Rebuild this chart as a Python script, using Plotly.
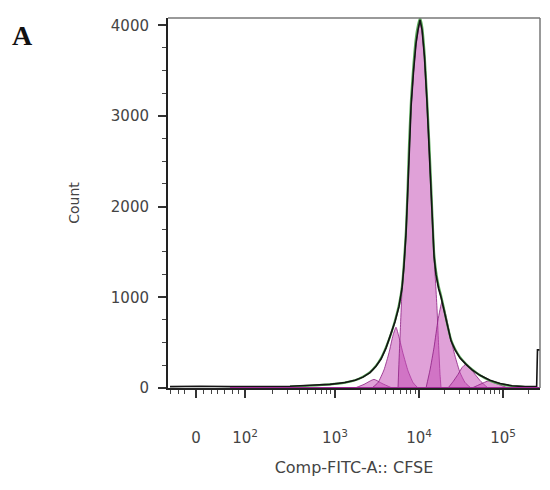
import numpy as np
import plotly.graph_objects as go

# ---- data (x in display units: decades on the biexponential axis) ----
data_x = [1.036, 1.393, 1.75, 2.107, 2.464, 2.702, 2.940, 3.119, 3.238, 3.333, 3.417, 3.488,
          3.548, 3.607, 3.667, 3.714, 3.762, 3.798, 3.821, 3.845, 3.863, 3.881, 3.905, 3.935,
          3.964, 3.988, 4.012, 4.036, 4.065, 4.095, 4.119, 4.143, 4.161, 4.179, 4.202, 4.232,
          4.262, 4.298, 4.333, 4.381, 4.429, 4.488, 4.560, 4.631, 4.726, 4.845, 4.964, 5.107,
          5.262, 5.400, 5.410, 5.44]
data_count = [15, 20, 15, 15, 20, 30, 40, 60, 85, 120, 170, 240,
              320, 440, 590, 730, 900, 1100, 1350, 1700, 2100, 2600, 3100, 3500,
              3800, 3950, 4060, 3950, 3650, 3150, 2700, 2200, 1800, 1450, 1250, 1100,
              1000, 850, 700, 520, 420, 330, 260, 200, 140, 85, 50, 25,
              15, 15, 420, 420]

model_x = [2.464, 2.702, 2.940, 3.119, 3.238, 3.333, 3.417, 3.488, 3.548, 3.607, 3.667, 3.714,
           3.762, 3.798, 3.821, 3.845, 3.863, 3.881, 3.905, 3.935, 3.964, 3.988, 4.012, 4.036,
           4.065, 4.095, 4.119, 4.143, 4.161, 4.179, 4.202, 4.232, 4.262, 4.298, 4.333, 4.381,
           4.429, 4.488, 4.560, 4.631, 4.726, 4.845, 4.964, 5.107, 5.262]
model_count = [15, 25, 40, 60, 85, 125, 175, 245, 330, 450, 600, 745,
               920, 1130, 1390, 1750, 2170, 2680, 3180, 3580, 3870, 4000, 4080, 3990,
               3700, 3200, 2760, 2260, 1860, 1500, 1290, 1130, 1020, 870, 715, 535,
               430, 340, 265, 205, 140, 80, 45, 20, 10]

gen0_x = [3.750, 3.762, 3.780, 3.798, 3.821, 3.845, 3.863, 3.881, 3.905, 3.935, 3.964, 3.988,
          4.012, 4.036, 4.065, 4.095, 4.119, 4.143, 4.161, 4.179, 4.196, 4.214, 4.232, 4.250,
          4.262]
gen0_count = [0, 300, 700, 1080, 1330, 1680, 2080, 2580, 3080, 3480, 3780, 3930,
              4050, 3930, 3630, 3130, 2680, 2180, 1780, 1430, 1180, 880, 500, 150,
              0]

genm1_x = [3.440, 3.512, 3.583, 3.643, 3.690, 3.726, 3.762, 3.810, 3.869, 3.929, 3.988]
genm1_count = [0, 60, 200, 390, 580, 670, 560, 380, 190, 60, 0]

genm2_x = [3.238, 3.345, 3.464, 3.560, 3.679]
genm2_count = [0, 40, 95, 50, 0]

genp1_x = [4.083, 4.131, 4.179, 4.226, 4.274, 4.321, 4.369, 4.429, 4.488, 4.548, 4.619]
genp1_count = [0, 200, 450, 750, 950, 800, 580, 350, 170, 60, 0]

genp2_x = [4.345, 4.405, 4.464, 4.512, 4.560, 4.607, 4.667, 4.738, 4.821]
genp2_count = [0, 70, 150, 225, 265, 225, 150, 70, 0]

genp3_x = [4.631, 4.726, 4.833, 4.929, 5.060]
genp3_count = [0, 40, 80, 45, 0]

baseline_x = [1.75, 5.44]
baseline_y = [0, 0]

tick_vals = [1.345, 1.929, 3.0, 4.0, 5.0]
tick_text = ["0", "10<sup>2</sup>", "10<sup>3</sup>", "10<sup>4</sup>", "10<sup>5</sup>"]

# ---- minor tick positions (axis decoration) ----
lin_minor = [1.036, 1.131, 1.214, 1.440, 1.524, 1.607, 1.690, 1.774, 1.857]
logs = np.log10(np.arange(2, 10))
minor_ticks = lin_minor + list(1.929 + 1.0714 * logs) + list(3 + logs) + list(4 + logs) + [5.301]

fig = go.Figure()

fill_col = "rgba(195,75,180,0.52)"
edge_col = "rgba(140,30,130,0.8)"
for gx, gy in [(genm2_x, genm2_count), (genm1_x, genm1_count), (gen0_x, gen0_count),
               (genp1_x, genp1_count), (genp2_x, genp2_count), (genp3_x, genp3_count)]:
    fig.add_trace(go.Scatter(x=gx, y=gy, mode="lines", fill="tozeroy",
                             fillcolor=fill_col,
                             line=dict(color=edge_col, width=1, shape="spline", smoothing=0.5),
                             showlegend=False, hoverinfo="skip"))

fig.add_trace(go.Scatter(x=model_x, y=model_count, mode="lines",
                         line=dict(color="rgb(90,170,90)", width=2.2, shape="spline", smoothing=0.5),
                         showlegend=False))
fig.add_trace(go.Scatter(x=data_x, y=data_count, mode="lines",
                         line=dict(color="rgb(20,20,20)", width=1.6),
                         showlegend=False))
fig.add_trace(go.Scatter(x=baseline_x, y=baseline_y, mode="lines",
                         line=dict(color="rgb(160,40,150)", width=2),
                         showlegend=False, hoverinfo="skip"))

tick_font = dict(family="DejaVu Sans", size=15, color="#444")

# the page body adds an 8px offset, so the figure is 8px smaller than the window
fig.update_layout(
    width=542, height=482,
    margin=dict(l=160, r=10, t=10, b=102),
    paper_bgcolor="white", plot_bgcolor="white",
    xaxis=dict(range=[1.012, 5.44], tickmode="array", tickvals=tick_vals, ticktext=tick_text,
               automargin=False,
               ticks="outside", ticklen=8, tickwidth=1.5, tickcolor="#333",
               showline=True, linecolor="#222", linewidth=2,
               showgrid=False, zeroline=False, tickfont=tick_font,
               ticklabelstandoff=27,
               minor=dict(tickmode="array", tickvals=minor_ticks, ticks="outside",
                          ticklen=4, tickwidth=1, tickcolor="#444", showgrid=False),
               title=dict(text="Comp-FITC-A:: CFSE",
                          font=dict(family="DejaVu Sans", size=16, color="#444"),
                          standoff=16)),
    yaxis=dict(range=[0, 4080], tickmode="array", tickvals=[0, 1000, 2000, 3000, 4000],
               automargin=False,
               ticks="outside", ticklen=8, tickwidth=1.5, tickcolor="#333",
               showline=True, linecolor="#222", linewidth=2,
               showgrid=False, zeroline=False, tickfont=tick_font,
               ticklabelstandoff=6,
               minor=dict(tickmode="array", tickvals=[250, 500, 750, 1250, 1500, 1750, 2250,
                                                      2500, 2750, 3250, 3500, 3750],
                          ticks="outside", ticklen=4, tickwidth=1, tickcolor="#444",
                          showgrid=False),
               title=dict(text="Count", font=dict(family="DejaVu Sans", size=14, color="#444"),
                          standoff=28)),
    shapes=[
        dict(type="line", xref="paper", yref="paper", x0=0, x1=1, y0=1, y1=1,
             line=dict(color="#777", width=1.5)),
        dict(type="line", xref="paper", yref="paper", x0=1, x1=1, y0=0, y1=1,
             line=dict(color="#777", width=1.5)),
    ],
    annotations=[dict(text="<b>A</b>", xref="paper", yref="paper", x=-0.392, y=0.954,
                      xanchor="center", yanchor="middle", showarrow=False,
                      font=dict(family="Liberation Serif", size=28, color="#111"))],
)

fig.write_html("out.html")
